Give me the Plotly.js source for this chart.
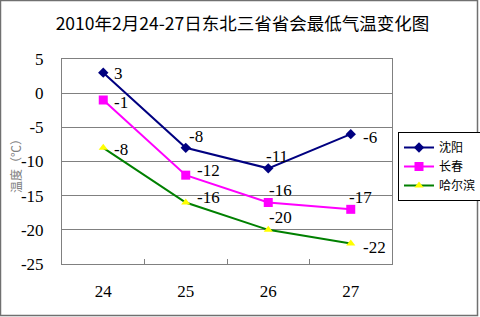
<!DOCTYPE html>
<html>
<head>
<meta charset="utf-8">
<script src="https://cdn.plot.ly/plotly-3.0.1.min.js"></script>
<style>html,body{margin:0;padding:0;background:#fff;}#chart{width:480px;height:317px;}</style>
</head>
<body>
<div id="chart"></div>
<script>
// ---- data ----
var days = ["24", "25", "26", "27"];
var shenyang = [3, -8, -11, -6];
var changchun = [-1, -12, -16, -17];
var haerbin = [-8, -16, -20, -22];
var seriesNames = ["沈阳", "长春", "哈尔滨"];
var titleText = "2010年2月24-27日东北三省省会最低气温变化图";
var yTitle = "温度（℃）";
var yTicks = [5, 0, -5, -10, -15, -20, -25];

// ---- label placement (style only) ----
var labelShift = [
  [[10,-1],[2,11],[-3,12],[11,-3]],
  [[10,-2],[10,5],[0,12],[-3,12]],
  [[10,-2],[10,5],[0,12],[11,-4]]
];

var serif = "Liberation Serif";
var cjk = "Noto Sans CJK SC";

var styles = [
  {line: "#000080", marker: {symbol: "diamond", size: 8, color: "#000080"}},
  {line: "#FF00FF", marker: {symbol: "square", size: 9, color: "#FF00FF"}},
  {line: "#008000", marker: {symbol: "triangle-up", size: 8, color: "#FFFF00"}}
];
var allSeries = [shenyang, changchun, haerbin];

var traces = allSeries.map(function (vals, i) {
  return {
    type: "scatter",
    mode: "lines+markers",
    name: seriesNames[i],
    x: days,
    y: vals,
    line: {color: styles[i].line, width: 2},
    marker: styles[i].marker,
    cliponaxis: false
  };
});

var annotations = [];
allSeries.forEach(function (vals, i) {
  vals.forEach(function (v, j) {
    annotations.push({
      x: j, y: v, xref: "x", yref: "y",   // category index of days[j]
      text: String(v), showarrow: false,
      xanchor: "left", yanchor: "middle",
      xshift: labelShift[i][j][0], yshift: labelShift[i][j][1],
      borderpad: 0,
      font: {family: serif, size: 17, color: "#000"}
    });
  });
});
annotations.push({
  xref: "paper", yref: "paper", x: -0.1394, y: 0.4927,
  text: yTitle, showarrow: false, textangle: -90,
  xanchor: "center", yanchor: "middle",
  font: {family: cjk, size: 12, color: "#808080"}
});

var layout = {
  width: 480, height: 317,
  margin: {l: 62, r: 88, t: 59, b: 53, pad: 0},
  paper_bgcolor: "#fff", plot_bgcolor: "#fff",
  showlegend: true,
  title: {
    text: titleText, xref: "container", x: 0.505, xanchor: "center",
    yref: "container", y: 0.924, yanchor: "middle",
    font: {family: cjk, size: 17.5, color: "#000"}
  },
  xaxis: {
    type: "category", range: [-0.5, 3.5],
    showgrid: false, showline: true, mirror: true, linecolor: "#808080", linewidth: 1,
    ticks: "inside", tickson: "boundaries", ticklen: 5, tickcolor: "#808080",
    ticklabelstandoff: 12,
    tickfont: {family: serif, size: 17, color: "#000"},
    fixedrange: true
  },
  yaxis: {
    range: [-25, 5], tickvals: yTicks, ticktext: yTicks.map(String),
    showgrid: true, gridcolor: "#808080", gridwidth: 1,
    zeroline: false, showline: true, mirror: true, linecolor: "#808080", linewidth: 1,
    ticks: "", ticklabelstandoff: 14,
    tickfont: {family: serif, size: 17, color: "#000"},
    fixedrange: true
  },
  legend: {
    xref: "container", yref: "container",
    x: 398 / 480, y: 1 - 132 / 317, xanchor: "left", yanchor: "top",
    bordercolor: "#000", borderwidth: 1, bgcolor: "#fff",
    font: {family: cjk, size: 12, color: "#000"},
    itemwidth: 30, tracegroupgap: 0
  },
  annotations: annotations,
  shapes: [{
    type: "rect", xref: "paper", yref: "paper",
    x0: -0.1864, x1: 1.2591, y0: -0.2512, y1: 1.2854,
    line: {color: "#707070", width: 1.5}
  }]
};

Plotly.newPlot("chart", traces, layout, {displayModeBar: false, staticPlot: true});
</script>
</body>
</html>
